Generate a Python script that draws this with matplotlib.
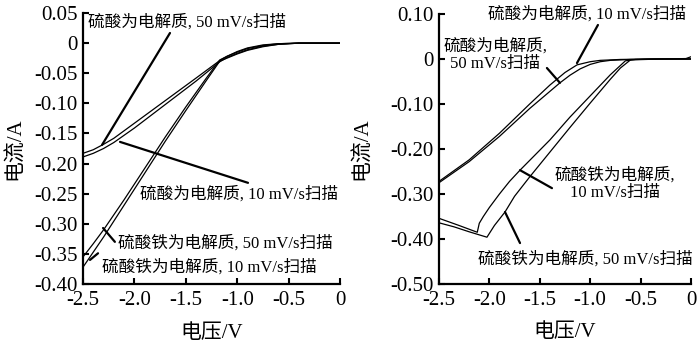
import matplotlib
matplotlib.use('Agg')
import matplotlib.pyplot as plt

# --- data ---

# left panel (voltage V, current A)
l_acid50_v = [0, -0.4, -0.6, -0.75, -0.9, -1.0, -1.1, -1.17, -1.4, -1.6, -1.8, -2.0, -2.2, -2.3, -2.4, -2.5]
l_acid50_i = [0, 0, -0.001, -0.003, -0.008, -0.014, -0.022, -0.029, -0.058, -0.083, -0.108, -0.133, -0.158, -0.168, -0.177, -0.183]
l_acid10_v = [0, -0.4, -0.6, -0.75, -0.9, -1.0, -1.1, -1.17, -1.4, -1.6, -1.8, -2.0, -2.2, -2.3, -2.4, -2.5]
l_acid10_i = [0, 0, -0.002, -0.005, -0.011, -0.017, -0.024, -0.031, -0.063, -0.089, -0.115, -0.141, -0.165, -0.175, -0.183, -0.189]
l_iron50_v = [0, -0.4, -0.6, -0.75, -0.9, -1.0, -1.1, -1.17, -1.3, -1.5, -1.7, -1.9, -2.1, -2.3, -2.4, -2.5]
l_iron50_i = [0, 0, -0.001, -0.004, -0.009, -0.015, -0.022, -0.028, -0.058, -0.106, -0.156, -0.208, -0.260, -0.310, -0.333, -0.355]
l_iron10_v = [0, -0.4, -0.6, -0.75, -0.9, -1.0, -1.1, -1.17, -1.3, -1.5, -1.7, -1.9, -2.1, -2.3, -2.4, -2.5]
l_iron10_i = [0, 0, -0.002, -0.006, -0.012, -0.018, -0.025, -0.030, -0.062, -0.112, -0.163, -0.216, -0.269, -0.322, -0.347, -0.372]

# right panel
r_acid10_v = [0, -0.4, -0.7, -0.9, -1.0, -1.13, -1.25, -1.4, -1.6, -1.9, -2.2, -2.5]
r_acid10_i = [0, 0, -0.001, -0.003, -0.006, -0.013, -0.030, -0.058, -0.100, -0.165, -0.224, -0.272]
r_acid50_v = [0, -0.4, -0.6, -0.8, -0.9, -1.0, -1.1, -1.2, -1.3, -1.4, -1.6, -1.9, -2.2, -2.5]
r_acid50_i = [0, 0, -0.001, -0.003, -0.006, -0.012, -0.022, -0.036, -0.053, -0.072, -0.110, -0.172, -0.228, -0.275]
r_iron50_v = [0, -0.3, -0.6, -0.7, -0.8, -1.0, -1.2, -1.4, -1.6, -1.75, -1.845, -1.95, -2.024, -2.2, -2.35, -2.5]
r_iron50_i = [0, 0, -0.002, -0.020, -0.045, -0.098, -0.152, -0.207, -0.262, -0.305, -0.340, -0.370, -0.396, -0.384, -0.373, -0.364]
r_iron10_v = [0.0, -0.05, -0.3, -0.55, -0.65, -0.8, -1.0, -1.2, -1.4, -1.55, -1.696, -1.8, -1.9, -2.0, -2.06, -2.1, -2.12, -2.3, -2.5]
r_iron10_i = [0.005, 0.001, 0.0, -0.001, -0.004, -0.035, -0.082, -0.129, -0.180, -0.214, -0.247, -0.272, -0.300, -0.330, -0.350, -0.365, -0.385, -0.370, -0.354]

# axes ticks
x_ticks = [-2.5, -2.0, -1.5, -1.0, -0.5, 0]
x_labels = ['-2.5', '-2.0', '-1.5', '-1.0', '-0.5', '0']
l_y_ticks = [0.05, 0, -0.05, -0.10, -0.15, -0.20, -0.25, -0.30, -0.35, -0.40]
l_y_labels = ['0.05', '0', '-0.05', '-0.10', '-0.15', '-0.20', '-0.25', '-0.30', '-0.35', '-0.40']
r_y_ticks = [0.10, 0, -0.10, -0.20, -0.30, -0.40, -0.50]
r_y_labels = ['0.10', '0', '-0.10', '-0.20', '-0.30', '-0.40', '-0.50']

# labels
lbl_acid50 = '硫酸为电解质, 50 mV/s扫描'
lbl_acid10 = '硫酸为电解质, 10 mV/s扫描'
lbl_iron50 = '硫酸铁为电解质, 50 mV/s扫描'
lbl_iron10 = '硫酸铁为电解质, 10 mV/s扫描'
lbl_acid50_2 = '硫酸为电解质,\n50 mV/s扫描'
lbl_iron10_2 = '硫酸铁为电解质,\n10 mV/s扫描'

plt.rcParams['font.family'] = ['Liberation Serif', 'Noto Sans CJK SC']
plt.rcParams['axes.unicode_minus'] = False

fig = plt.figure(figsize=(7, 3.45), dpi=100)
ax1 = fig.add_axes([0.1186, 0.1768, 0.3671, 0.7855])
ax2 = fig.add_axes([0.6271, 0.1768, 0.36, 0.7826])

LW = 0.9
ANN = 12


def style(ax, yticks, ylabels, ylim, ylab_x):
    ax.set_xlim(-2.5, 0)
    ax.set_ylim(*ylim)
    ax.set_xticks(x_ticks)
    ax.set_xticklabels(x_labels)
    ax.set_yticks(yticks)
    ax.set_yticklabels(ylabels)
    for s in ['top', 'right']:
        ax.spines[s].set_visible(False)
    for s in ['left', 'bottom']:
        ax.spines[s].set_linewidth(1.6)
    ax.tick_params(direction='in', length=4.5, width=1.5, labelsize=15, pad=4)
    ax.tick_params(axis='x', pad=5)
    ax.set_xlabel('电压/V', fontsize=15, va='center')
    ax.set_ylabel('电流/A', fontsize=15, va='center')
    ax.xaxis.set_label_coords(0.5, -0.181)
    ax.yaxis.set_label_coords(ylab_x, 0.5)


def leader(ax, p1, p2):
    ax.annotate('', xy=p1, xytext=p2,
                arrowprops=dict(arrowstyle='-', lw=1.6, color='k', shrinkA=0, shrinkB=0),
                annotation_clip=False)


# ---- left panel ----
ax1.plot(l_acid50_v, l_acid50_i, color='k', lw=LW)
ax1.plot(l_acid10_v, l_acid10_i, color='k', lw=LW)
ax1.plot(l_iron50_v, l_iron50_i, color='k', lw=LW)
ax1.plot(l_iron10_v, l_iron10_i, color='k', lw=LW)
style(ax1, l_y_ticks, l_y_labels, (-0.40, 0.05), -0.265)

leader(ax1, (-2.315, -0.169), (-1.654, 0.0168))
leader(ax1, (-2.14, -0.164), (-0.895, -0.232))
leader(ax1, (-2.305, -0.307), (-2.19, -0.330))
leader(ax1, (-2.432, -0.360), (-2.354, -0.349))
ax1.text(-2.45, 0.035, lbl_acid50, fontsize=ANN, ha='left', va='center')
ax1.text(-1.95, -0.252, lbl_acid10, fontsize=ANN, ha='left', va='center')
ax1.text(-2.16, -0.332, lbl_iron50, fontsize=ANN, ha='left', va='center')
ax1.text(-2.315, -0.372, lbl_iron10, fontsize=ANN, ha='left', va='center')

# ---- right panel ----
ax2.plot(r_acid10_v, r_acid10_i, color='k', lw=LW)
ax2.plot(r_acid50_v, r_acid50_i, color='k', lw=LW)
ax2.plot(r_iron50_v, r_iron50_i, color='k', lw=LW)
ax2.plot(r_iron10_v, r_iron10_i, color='k', lw=LW)
style(ax2, r_y_ticks, r_y_labels, (-0.50, 0.10), -0.306)

leader(ax2, (-1.131, -0.009), (-0.923, 0.0756))
leader(ax2, (-1.30, -0.053), (-1.429, -0.020))
leader(ax2, (-1.696, -0.247), (-1.379, -0.287))
leader(ax2, (-1.845, -0.340), (-1.696, -0.409))
ax2.text(-2.014, 0.098, lbl_acid10, fontsize=ANN, ha='left', va='center')
ax2.text(-1.944, 0.009, lbl_acid50_2, fontsize=ANN, ha='center', va='center', linespacing=1.15)
ax2.text(-0.754, -0.278, lbl_iron10_2, fontsize=ANN, ha='center', va='center', linespacing=1.15)
ax2.text(-2.113, -0.446, lbl_iron50, fontsize=ANN, ha='left', va='center')

fig.savefig('out.png', dpi=100)
